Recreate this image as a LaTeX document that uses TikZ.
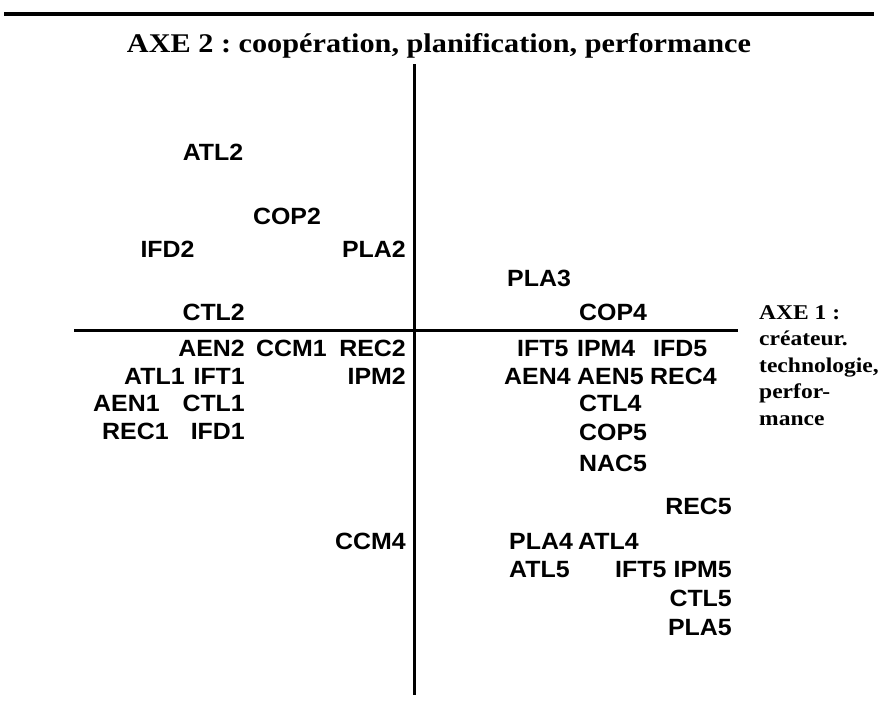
\documentclass[tikz,border=0pt]{standalone}
\usepackage{fontspec}
\setmainfont{Liberation Serif}
\newfontfamily\codefont[FakeStretch=1.06]{Liberation Sans}
\newfontfamily\axefont[FakeStretch=1.12]{Liberation Serif}
\frenchspacing
\begin{document}
\begin{tikzpicture}[x=1pt,y=-1pt,
  code/.style={font=\codefont\bfseries\fontsize{23.5}{28}\selectfont, inner sep=0pt},
  axetitle/.style={font=\axefont\bfseries\fontsize{27}{32}\selectfont, inner sep=0pt},
  axelabel/.style={font=\axefont\bfseries\fontsize{21}{26.5}\selectfont, inner sep=0pt, align=left},
  axisline/.style={line width=3pt},
  rule/.style={line width=4pt}]
\useasboundingbox[fill=white] (0,0) rectangle (878,710);

% top rule and title
\coordinate (ruleL) at (4,14);
\coordinate (ruleR) at (874,14);
\draw[rule] (ruleL) -- (ruleR);
\node[axetitle, anchor=base] (axe2) at (439,52) {AXE 2 : coopération, planification, performance};

% axes
\coordinate (hL) at (74,330);
\coordinate (hR) at (738,330);
\coordinate (vT) at (414,64);
\coordinate (vB) at (414,695);
\draw[axisline] (hL) -- (hR);
\draw[axisline] (vT) -- (vB);

% label of axis 1
\node[axelabel, anchor=north west] (axe1) at (759,305) {AXE 1 :\\créateur.\\technologie,\\perfor-\\mance};

% upper left quadrant
\node[code, anchor=base] (atl2) at (213,160.5) {ATL2};
\node[code, anchor=base] (cop2) at (287,224.5) {COP2};
\node[code, anchor=base] (ifd2) at (167.5,257.5) {IFD2};
\node[code, anchor=base east] (pla2) at (406,257.5) {PLA2};
\node[code, anchor=base east] (ctl2) at (245,320.5) {CTL2};

% upper right quadrant
\node[code, anchor=base west] (pla3) at (507,286.5) {PLA3};
\node[code, anchor=base west] (cop4) at (579,320.5) {COP4};

% lower left quadrant
\node[code, anchor=base east] (aen2) at (245,356) {AEN2};
\node[code, anchor=base west] (ccm1) at (256,356) {CCM1};
\node[code, anchor=base east] (rec2) at (406,356) {REC2};
\node[code, anchor=base west] (atl1) at (124,384) {ATL1};
\node[code, anchor=base east] (ift1) at (245,384) {IFT1};
\node[code, anchor=base east] (ipm2) at (406,384) {IPM2};
\node[code, anchor=base west] (aen1) at (93,411.5) {AEN1};
\node[code, anchor=base east] (ctl1) at (245,411.5) {CTL1};
\node[code, anchor=base west] (rec1) at (102,439.5) {REC1};
\node[code, anchor=base east] (ifd1) at (245,439.5) {IFD1};
\node[code, anchor=base east] (ccm4) at (406,549.5) {CCM4};

% lower right quadrant
\node[code, anchor=base west] (ift5a) at (517,356) {IFT5};
\node[code, anchor=base west] (ipm4) at (577,356) {IPM4};
\node[code, anchor=base west] (ifd5) at (653,356) {IFD5};
\node[code, anchor=base west] (aen4) at (504,384) {AEN4};
\node[code, anchor=base west] (aen5) at (577,384) {AEN5};
\node[code, anchor=base west] (rec4) at (650,384) {REC4};
\node[code, anchor=base west] (ctl4) at (579,411.5) {CTL4};
\node[code, anchor=base west] (cop5) at (579,440) {COP5};
\node[code, anchor=base west] (nac5) at (579,471) {NAC5};
\node[code, anchor=base east] (rec5) at (732,514.5) {REC5};
\node[code, anchor=base west] (pla4) at (509,549.5) {PLA4};
\node[code, anchor=base west] (atl4) at (578,549.5) {ATL4};
\node[code, anchor=base west] (atl5) at (509,577.5) {ATL5};
\node[code, anchor=base west] (ift5b) at (615,577.5) {IFT5};
\node[code, anchor=base east] (ipm5) at (732,577.5) {IPM5};
\node[code, anchor=base east] (ctl5) at (732,606.5) {CTL5};
\node[code, anchor=base east] (pla5) at (732,635.5) {PLA5};
\end{tikzpicture}
\end{document}
